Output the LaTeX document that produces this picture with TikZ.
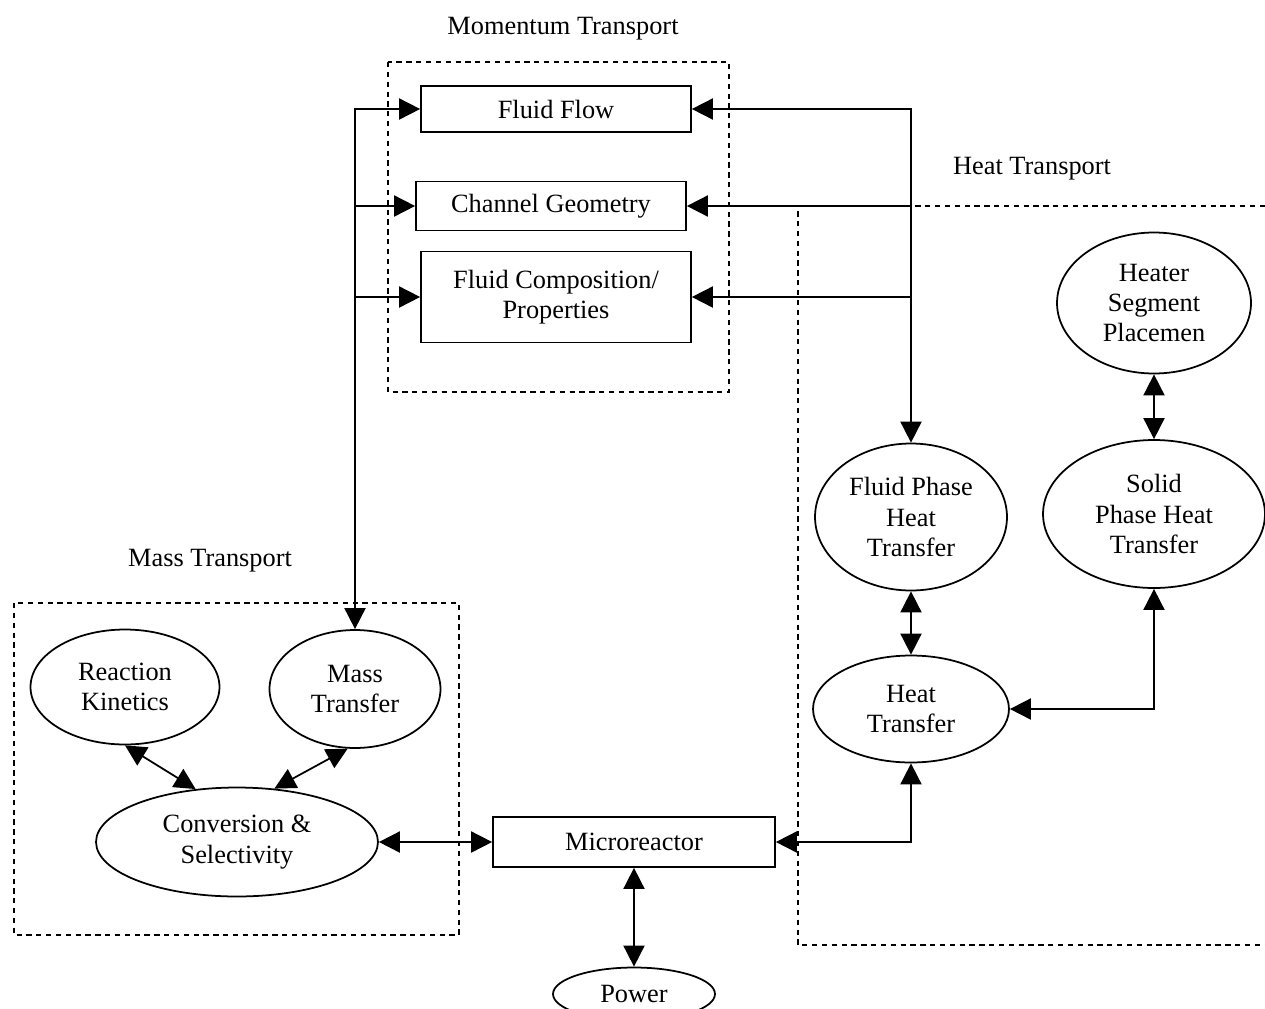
\documentclass[tikz,border=0pt]{standalone}
\usepackage{fontspec}
\setmainfont{Liberation Serif}
\usetikzlibrary{shapes.geometric,arrows.meta}

\begin{document}
\begin{tikzpicture}[x=0.02cm, y=-0.02cm,
                    font=\fontsize{15}{17.2}\selectfont,
                    line width=1pt,
                    >={Triangle[length=12pt,width=12pt]},
                    box/.style={draw, rectangle, align=center, inner sep=0pt},
                    oval/.style={draw, ellipse, align=center, inner sep=0pt},
                    frame/.style={line width=0.8pt, dash pattern=on 3pt off 2.6pt}]
  \useasboundingbox (0,0) rectangle (1265,1008);
  % grupiu rėmai
  \draw[frame] (388,62) rectangle (729,392);
  \draw[frame] (14,603) rectangle (459,935);
  \draw[frame] (1265,206) -- (798,206) -- (798,945) -- (1265,945);
  \node (momlbl)  at (563,29)  {Momentum Transport};
  \node (heatlbl) at (1032,169) {Heat Transport};
  \node (masslbl) at (210,561) {Mass Transport};
  % momentum
  \node[box, minimum width=5.4cm, minimum height=0.92cm] (ff)  at (556,109) {Fluid Flow};
  \node[box, minimum width=5.4cm, minimum height=0.98cm] (cg)  at (551,206) {Channel Geometry};
  \node[box, minimum width=5.4cm, minimum height=1.82cm] (fcp) at (556,297) {Fluid Composition/\\Properties};
  % heat
  \node[oval, minimum width=3.88cm, minimum height=2.82cm] (hsp)  at (1154,303) {Heater\\Segment\\Placemen};
  \node[oval, minimum width=3.84cm, minimum height=2.94cm] (fpht) at (911,517)  {Fluid Phase\\Heat\\Transfer};
  \node[oval, minimum width=4.44cm, minimum height=2.96cm] (spht) at (1154,514) {Solid\\Phase Heat\\Transfer};
  \node[oval, minimum width=3.92cm, minimum height=2.14cm] (ht)   at (911,709)  {Heat\\Transfer};
  % mass
  \node[oval, minimum width=3.78cm, minimum height=2.3cm]  (rk) at (125,687) {Reaction\\Kinetics};
  \node[oval, minimum width=3.42cm, minimum height=2.36cm] (mt) at (355,689) {Mass\\Transfer};
  \node[oval, minimum width=5.64cm, minimum height=2.18cm] (cs) at (237,842) {Conversion \&\\Selectivity};
  % reaktorius
  \node[box, minimum width=5.64cm, minimum height=1.0cm] (mr) at (634,842) {Microreactor};
  \node[oval, minimum width=3.24cm, minimum height=1.06cm] (pw) at (634,994) {Power};
  % jungtys
  \draw[<->] (ff.west) -| (mt.north);
  \draw[->] (cg.west -| mt.north) -- (cg.west);
  \draw[->] (fcp.west -| mt.north) -- (fcp.west);
  \draw[<->] (ff.east) -| (fpht.north);
  \draw[->] (cg.east -| fpht.north) -- (cg.east);
  \draw[->] (fcp.east -| fpht.north) -- (fcp.east);
  \draw[<->] (hsp.south) -- (spht.north);
  \draw[<->] (fpht.south) -- (ht.north);
  \draw[<->] (spht.south) |- (ht.east);
  \draw[<->] (ht.south) |- (mr.east);
  \draw[<->] (mr.south) -- (pw.north);
  \draw[<->] (cs.east) -- (mr.west);
  \draw[<->] (rk.south) -- (cs.128);
  \draw[<->] (mt.263) -- (cs.55);
\end{tikzpicture}
\end{document}
